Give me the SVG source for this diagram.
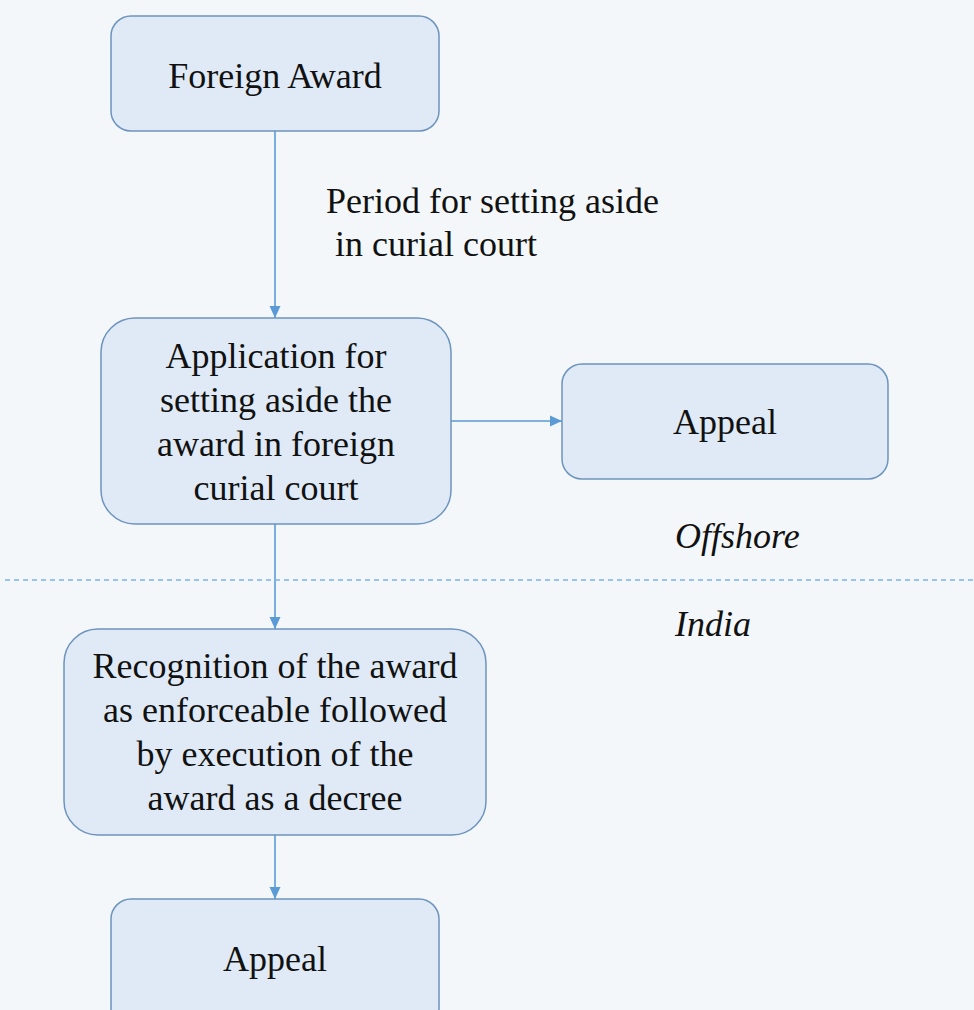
<svg xmlns="http://www.w3.org/2000/svg" width="974" height="1010" viewBox="0 0 974 1010">
<defs>
<style>
.box{fill:#dfeaf6;stroke:#6d94bd;stroke-width:1.5}
.t{font-family:"Liberation Serif","Times New Roman",serif;font-size:36px;fill:#111;text-anchor:middle}
.l{font-family:"Liberation Serif","Times New Roman",serif;font-size:36px;fill:#111}
.i{font-family:"Liberation Serif","Times New Roman",serif;font-size:36px;fill:#111;font-style:italic}
.c{stroke:#5b9bd5;stroke-width:1.6;fill:none}
</style>
<marker id="ah" markerWidth="12" markerHeight="12" viewBox="0 0 12 12" refX="12" refY="6" orient="auto" markerUnits="userSpaceOnUse">
<path d="M0,0.5 L12,6 L0,11.5 Z" fill="#5b9bd5"/>
</marker>
</defs>
<rect width="974" height="1010" fill="#f3f7fa"/>
<g id="connectors">
<line class="c" x1="275" y1="131" x2="275" y2="318" marker-end="url(#ah)"/>
<line class="c" x1="451" y1="421" x2="562" y2="421" marker-end="url(#ah)"/>
<line class="c" x1="275" y1="524" x2="275" y2="629" marker-end="url(#ah)"/>
<line class="c" x1="275" y1="835" x2="275" y2="899" marker-end="url(#ah)"/>
</g>
<g id="divider">
<line x1="5" y1="580" x2="974" y2="580" stroke="#7fb2e5" stroke-width="1.5" stroke-dasharray="5,4"/>
</g>
<g id="node-foreign-award">
<rect class="box" x="111" y="16" width="328" height="115" rx="20"/>
<text class="t" x="275" y="88">Foreign Award</text>
</g>
<g id="label-period">
<text class="l" x="326" y="213">Period for setting aside</text>
<text class="l" x="335" y="256">in curial court</text>
</g>
<g id="node-application">
<rect class="box" x="101" y="318" width="350" height="206" rx="34"/>
<text class="t" x="276" y="368">Application for</text>
<text class="t" x="276" y="412">setting aside the</text>
<text class="t" x="276" y="456">award in foreign</text>
<text class="t" x="276" y="500">curial court</text>
</g>
<g id="node-appeal-offshore">
<rect class="box" x="562" y="364" width="326" height="115" rx="20"/>
<text class="t" x="725" y="434">Appeal</text>
</g>
<g id="label-offshore">
<text class="i" x="675" y="548">Offshore</text>
</g>
<g id="label-india">
<text class="i" x="675" y="636">India</text>
</g>
<g id="node-recognition">
<rect class="box" x="64" y="629" width="422" height="206" rx="34"/>
<text class="t" x="275" y="678">Recognition of the award</text>
<text class="t" x="275" y="722">as enforceable followed</text>
<text class="t" x="275" y="766">by execution of the</text>
<text class="t" x="275" y="810">award as a decree</text>
</g>
<g id="node-appeal-india">
<rect class="box" x="111" y="899" width="328" height="130" rx="20"/>
<text class="t" x="275" y="971">Appeal</text>
</g>
</svg>
